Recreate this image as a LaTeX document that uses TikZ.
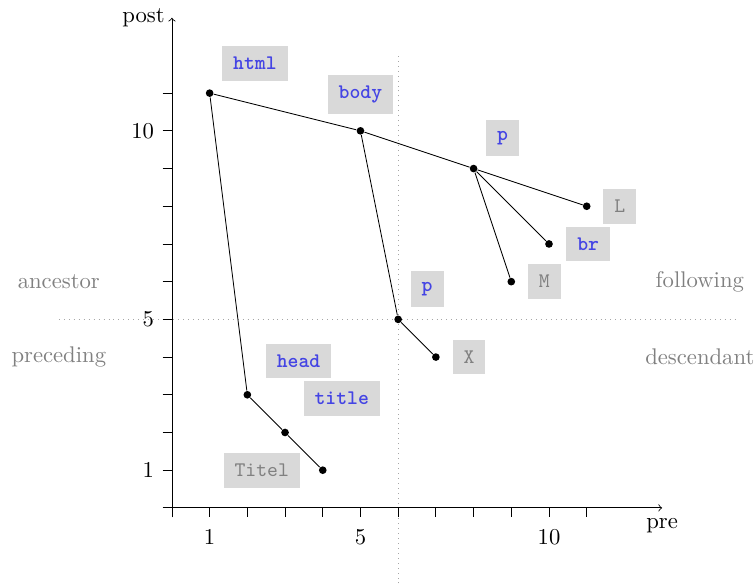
\documentclass[tikz,border=0pt]{standalone}
\usetikzlibrary{positioning}
\definecolor{tagblue}{RGB}{68,68,228}

\begin{document}
\begin{tikzpicture}[x=0.64cm,y=0.64cm,font=\fontsize{10.95}{13.6}\selectfont,
    pt/.style={circle,fill=black,inner sep=0pt,minimum size=3.7pt},
    elemtag/.style={fill=gray!30,inner sep=5.3pt,font=\fontsize{10}{12}\selectfont\ttfamily\bfseries,text=tagblue},
    texttag/.style={elemtag,font=\fontsize{10}{12}\selectfont\ttfamily,text=gray},
    axisname/.style={text=gray}]
  \useasboundingbox (-4.56,-2.04) rectangle (15.49,13.47);

  % Quadrant separators through the context node p (pre 6, post 5).
  \draw[gray!70,dotted] (6,-2) -- (6,12);
  \draw[gray!70,dotted] (-3,5) -- (15,5);

  % Axes and ticks.
  \draw[->] (-0.25,0) -- (13,0) node[below=1.5pt] {pre};
  \draw[->] (0,-0.25) -- (0,13) node[left] {post};
  \foreach \i in {1,...,11}{
    \draw (\i,0) -- (\i,-0.25);
    \draw (-0.25,\i) -- (0,\i);
  }
  \foreach \i in {1,5,10}{
    \node[below] (xl\i) at (\i,-0.38) {\i};
    \node[left] (yl\i) at (-0.28,\i) {\i};
  }

  % Axis regions.
  \node[axisname] (anc) at (-3,6) {ancestor};
  \node[axisname] (prec) at (-3,4) {preceding};
  \node[axisname] (foll) at (14,6) {following};
  \node[axisname] (desc) at (14,4) {descendant};

  % Document nodes at (pre,post).
  \node[pt] (html) at (1,11) {};
  \node[pt] (body) at (5,10) {};
  \node[pt] (p1) at (8,9) {};
  \node[pt] (L) at (11,8) {};
  \node[pt] (br) at (10,7) {};
  \node[pt] (M) at (9,6) {};
  \node[pt] (p2) at (6,5) {};
  \node[pt] (X) at (7,4) {};
  \node[pt] (head) at (2,3) {};
  \node[pt] (title) at (3,2) {};
  \node[pt] (Titel) at (4,1) {};

  % Tree edges.
  \draw (html) -- (body);
  \draw (body) -- (p1);
  \draw (p1) -- (L);
  \draw (p1) -- (br);
  \draw (p1) -- (M);
  \draw (body) -- (p2);
  \draw (p2) -- (X);
  \draw (html) -- (head);
  \draw (head) -- (title);
  \draw (title) -- (Titel);

  % Node tags.
  \node[elemtag,above right=4.4pt and 4.4pt of html] (thtml) {html};
  \node[elemtag,above=5.8pt of body] (tbody) {body};
  \node[elemtag,above right=4.4pt and 4.4pt of p1] (tp1) {p};
  \node[texttag,right=5.8pt of L] (tL) {L};
  \node[elemtag,right=6.1pt of br] (tbr) {br};
  \node[texttag,right=5.8pt of M] (tM) {M};
  \node[elemtag,above right=4.4pt and 4.4pt of p2] (tp2) {p};
  \node[texttag,right=5.8pt of X] (tX) {X};
  \node[elemtag,above right=6.3pt and 7.3pt of head] (thead) {head};
  \node[elemtag,above right=6.3pt and 7.3pt of title] (ttitle) {title};
  \node[texttag,left=8.8pt of Titel] (tTitel) {Titel};
\end{tikzpicture}
\end{document}
